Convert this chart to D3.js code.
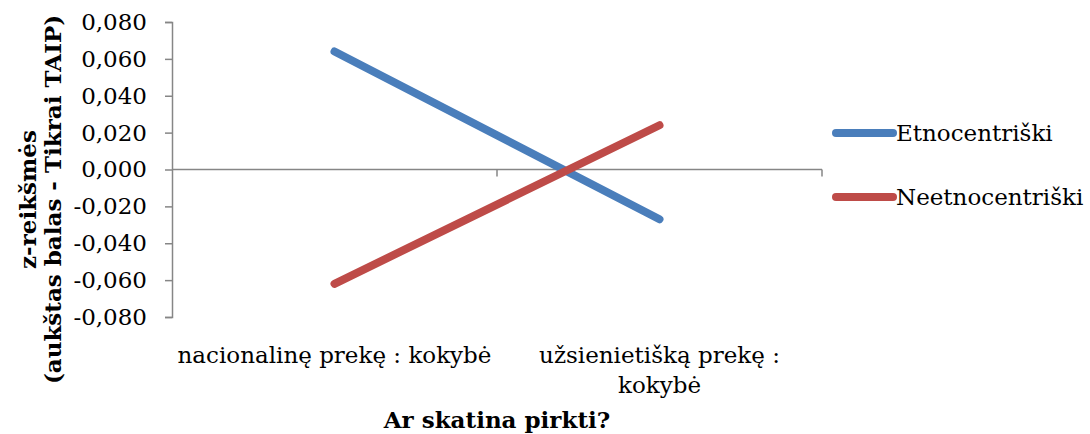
<!DOCTYPE html>
<html>
<head>
<meta charset="utf-8">
<script src="https://cdn.jsdelivr.net/npm/d3@7"></script>
<style>
  body { margin: 0; background: #fff; }
  text { font-family: "DejaVu Serif", serif; fill: #000; }
</style>
</head>
<body>
<div id="chart"></div>
<script>
const categories = ["nacionalinę prekę : kokybė", "užsienietišką prekę : kokybė"];
const seriesNames = ["Etnocentriški", "Neetnocentriški"];
const seriesColors = ["#4a7ebb", "#be4b48"];
const etnoValues = [0.064, -0.027];
const neetnoValues = [-0.062, 0.024];
const yTicks = [-0.08, -0.06, -0.04, -0.02, 0, 0.02, 0.04, 0.06, 0.08];

const width = 1090;
const height = 434;
const margin = { left: 172, right: 268, top: 22, bottom: 117 };
const fontSize = "23px";

const svg = d3
  .select("#chart")
  .append("svg")
  .attr("width", width)
  .attr("height", height);

const x = d3
  .scaleBand()
  .domain(categories)
  .range([margin.left, width - margin.right]);

const y = d3
  .scaleLinear()
  .domain([-0.08, 0.08])
  .range([height - margin.bottom, margin.top]);

const fmt = (v) => d3.format(".3f")(v).replace(".", ",").replace("−", "-");

// y axis
const yAxis = svg
  .append("g")
  .attr("transform", `translate(${margin.left},0)`)
  .call(d3.axisLeft(y).tickValues(yTicks).tickFormat(fmt).tickSize(7).tickPadding(18));
yAxis.selectAll("path, line").attr("stroke", "#868686").attr("stroke-width", 1.5);
yAxis.selectAll("text").style("font-size", fontSize).style("font-family", "DejaVu Serif");

// x axis through zero
const xAxis = svg.append("g").attr("transform", `translate(0,${y(0)})`);
const bounds = categories.map((c) => x(c)).concat([x.range()[1]]);
xAxis
  .append("line")
  .attr("x1", x.range()[0])
  .attr("x2", x.range()[1])
  .attr("stroke", "#868686")
  .attr("stroke-width", 1.5);
xAxis
  .selectAll(".tk")
  .data(bounds.slice(1))
  .enter()
  .append("line")
  .attr("x1", (d) => d)
  .attr("x2", (d) => d)
  .attr("y1", 0)
  .attr("y2", 7)
  .attr("stroke", "#868686")
  .attr("stroke-width", 1.5);

// category labels, wrapped to band width
const catLabels = svg
  .append("g")
  .selectAll("text")
  .data(categories)
  .enter()
  .append("text")
  .attr("x", (d) => x(d) + x.bandwidth() / 2)
  .attr("y", 363)
  .attr("text-anchor", "middle")
  .style("font-size", fontSize)
  .text((d) => d);

catLabels.each(function (d) {
  const t = d3.select(this);
  const words = d.split(" ");
  let line = [];
  t.text(null);
  let tspan = t.append("tspan").attr("x", t.attr("x")).attr("dy", 0);
  words.forEach((w) => {
    line.push(w);
    tspan.text(line.join(" "));
    if (tspan.node().getComputedTextLength() > x.bandwidth() && line.length > 1) {
      line.pop();
      tspan.text(line.join(" "));
      line = [w];
      tspan = t.append("tspan").attr("x", t.attr("x")).attr("dy", 30).text(w);
    }
  });
});

// lines
const series = [etnoValues, neetnoValues];
const line = d3
  .line()
  .x((d, i) => x(categories[i]) + x.bandwidth() / 2)
  .y((d) => y(d));

svg
  .append("g")
  .selectAll("path")
  .data(series)
  .enter()
  .append("path")
  .attr("d", line)
  .attr("fill", "none")
  .attr("stroke", (d, i) => seriesColors[i])
  .attr("stroke-width", 8)
  .attr("stroke-linecap", "round");

// legend
const legend = svg
  .append("g")
  .selectAll("g")
  .data(seriesNames)
  .enter()
  .append("g")
  .attr("transform", (d, i) => `translate(836,${133 + i * 64})`);
legend
  .append("line")
  .attr("x1", 0)
  .attr("x2", 57)
  .attr("stroke", (d, i) => seriesColors[i])
  .attr("stroke-width", 8)
  .attr("stroke-linecap", "round");
legend
  .append("text")
  .attr("x", 60)
  .attr("dy", "0.35em")
  .style("font-size", fontSize)
  .text((d) => d);

// axis titles
svg
  .append("text")
  .attr("x", (x.range()[0] + x.range()[1]) / 2)
  .attr("y", 428)
  .attr("text-anchor", "middle")
  .style("font-size", fontSize)
  .style("font-weight", "bold")
  .text("Ar skatina pirkti?");

const yTitle = svg
  .append("text")
  .attr("transform", `translate(0,${(margin.top + height - margin.bottom) / 2 + 30}) rotate(-90)`)
  .attr("text-anchor", "middle")
  .style("font-size", fontSize)
  .style("font-weight", "bold");
yTitle.append("tspan").attr("x", 0).attr("y", 36).text("z-reikšmės");
yTitle.append("tspan").attr("x", 0).attr("y", 61).text("(aukštas balas - Tikrai TAIP)");
</script>
</body>
</html>
